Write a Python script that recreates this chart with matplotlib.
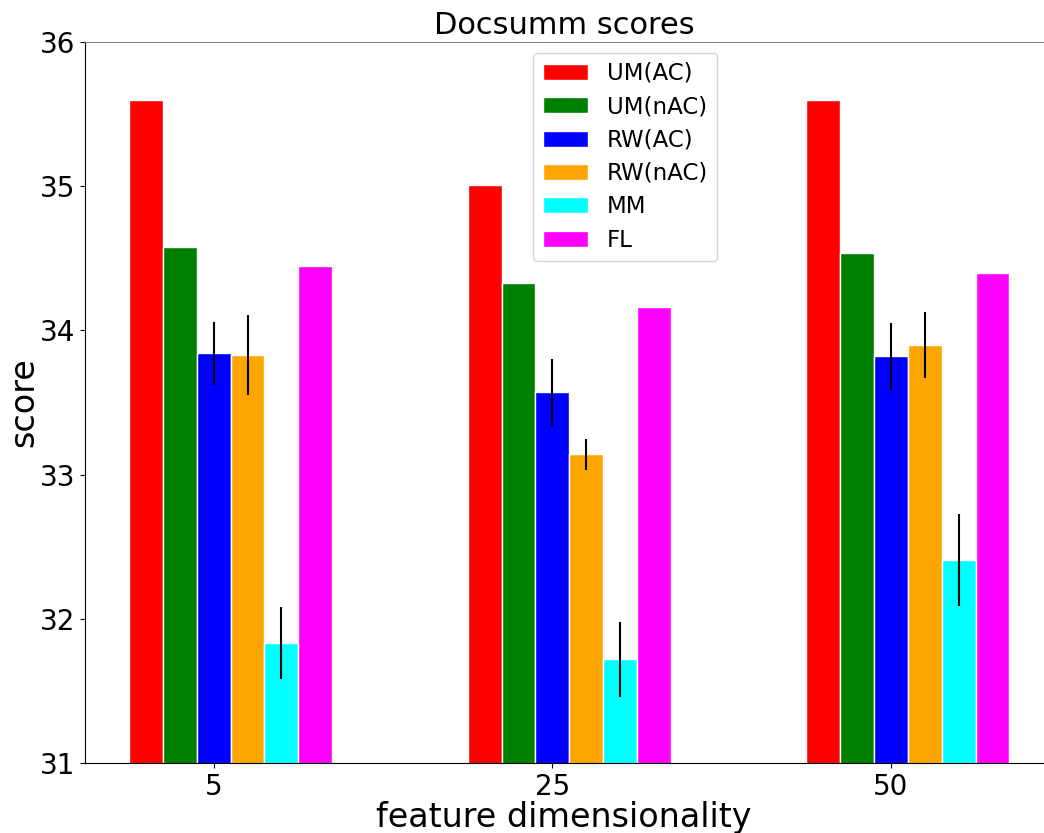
import numpy as np
import matplotlib
matplotlib.use("Agg")
import matplotlib.pyplot as plt

dims = ["5", "25", "50"]
methods = ["UM(AC)", "UM(nAC)", "RW(AC)", "RW(nAC)", "MM", "FL"]
colors = ["red", "green", "blue", "orange", "cyan", "magenta"]

scores = {
    "UM(AC)": [35.60, 35.01, 35.60],
    "UM(nAC)": [34.58, 34.33, 34.54],
    "RW(AC)": [33.84, 33.57, 33.82],
    "RW(nAC)": [33.83, 33.14, 33.90],
    "MM": [31.83, 31.72, 32.41],
    "FL": [34.45, 34.16, 34.40],
}
errors = {
    "UM(AC)": None,
    "UM(nAC)": None,
    "RW(AC)": [0.22, 0.23, 0.23],
    "RW(nAC)": [0.28, 0.11, 0.23],
    "MM": [0.25, 0.26, 0.32],
    "FL": None,
}

fig = plt.figure(figsize=(10.44, 8.33), dpi=100)
ax = fig.add_axes([85 / 1044, 70 / 833, 958 / 1044, 721 / 833])

x = np.arange(len(dims))
w = 0.1
for i, m in enumerate(methods):
    ax.bar(x + (i - 2) * w, scores[m], w, color=colors[i], edgecolor="white",
           linewidth=1, label=m, yerr=errors[m],
           error_kw={"ecolor": "black", "elinewidth": 1.5, "capsize": 0})

ax.set_ylim(31, 36)
ax.set_xlim(-0.38, 2.449)
ax.set_xticks(x)
ax.set_xticklabels(dims)
ax.tick_params(labelsize=20)
ax.set_xlabel("feature dimensionality", fontsize=24, labelpad=0)
ax.set_ylabel("score", fontsize=24, labelpad=0)
ax.set_title("Docsumm scores", fontsize=22, pad=6)
ax.spines["right"].set_visible(False)
ax.spines["top"].set_color("gray")
ax.legend(fontsize=16.5, loc="upper left", bbox_to_anchor=(0.468, 0.985),
          borderaxespad=0, labelspacing=0.45)

fig.savefig("out.png", dpi=100)
